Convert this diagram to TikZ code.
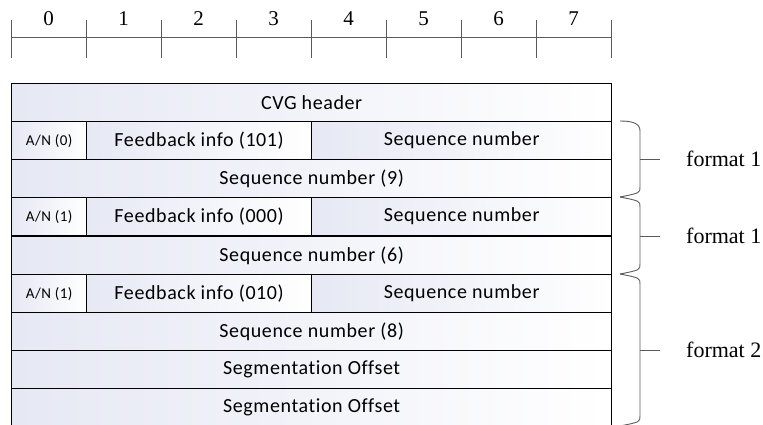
\documentclass[tikz,border=0pt]{standalone}
\usepackage{fontspec}
\setmainfont{Liberation Serif}
\newfontfamily\calibfont[Ligatures={NoCommon}, LetterSpace=3]{Carlito}
\usetikzlibrary{positioning,calc}

\definecolor{cellblue}{RGB}{230,232,244}
\definecolor{rulegray}{RGB}{90,90,90}

\tikzset{
  cell/.style={draw=black, line width=1.3pt, left color=cellblue, right color=white,
    anchor=north west, minimum height=38pt, inner sep=0pt,
    font=\calibfont\fontsize{20}{20}\selectfont},
  smallcell/.style={cell, font=\calibfont\fontsize{15}{15}\selectfont},
  brace/.style={draw=rulegray, line width=0.9pt},
  fmt/.style={anchor=west, inner sep=0pt, font=\fontsize{22}{22}\selectfont}
}

\begin{document}
\begin{tikzpicture}[x=1pt,y=-1pt]
  \useasboundingbox (0,0) rectangle (763,425);

  % bit ruler
  \draw[rulegray, line width=0.9pt] (11,37) -- (611,37);
  \foreach \i in {0,...,8}
    \draw[rulegray, line width=0.9pt] (11+75*\i,20) -- ++(0,38);
  \foreach \i in {0,...,7}
    \node[font=\fontsize{21}{21}\selectfont, inner sep=0pt] (bit\i) at (48.5+75*\i,19) {\i};

  % header frame
  \node[cell, minimum width=600pt] (cvg) at (11,83) {CVG header};

  \node[smallcell, minimum width=75pt] (an1) at (11,121) {A/N (0)};
  \node[cell, minimum width=225pt] (fb1) at (86,121) {Feedback info (101)};
  \node[cell, minimum width=300pt] (sn1) at (311,121) {Sequence number};
  \node[cell, minimum width=600pt] (seq1) at (11,159) {Sequence number (9)};

  \node[smallcell, minimum width=75pt] (an2) at (11,197) {A/N (1)};
  \node[cell, minimum width=225pt] (fb2) at (86,197) {Feedback info (000)};
  \node[cell, minimum width=300pt] (sn2) at (311,197) {Sequence number};
  \node[cell, minimum width=600pt] (seq2) at (11,236) {Sequence number (6)};

  \node[smallcell, minimum width=75pt] (an3) at (11,274) {A/N (1)};
  \node[cell, minimum width=225pt] (fb3) at (86,274) {Feedback info (010)};
  \node[cell, minimum width=300pt] (sn3) at (311,274) {Sequence number};
  \node[cell, minimum width=600pt] (seq3) at (11,312) {Sequence number (8)};
  \node[cell, minimum width=600pt] (seg1) at (11,350) {Segmentation Offset};
  \node[cell, minimum width=600pt] (seg2) at (11,388) {Segmentation Offset};

  % braces
  \coordinate (b1) at (620,121);
  \coordinate (b2) at (620,197);
  \coordinate (b3) at (620,274);
  \coordinate (b4) at (620,426);
  \draw[brace] (b1) .. controls ($(b1)+(14,0)$) and ($(b1)+(20,3)$) .. ($(b1)+(20,10)$)
    -- ($(b2)+(20,-10)$) .. controls ($(b2)+(20,-4)$) .. (b2);
  \draw[brace] (b2) .. controls ($(b2)+(20,4)$) .. ($(b2)+(20,10)$)
    -- ($(b3)+(20,-10)$) .. controls ($(b3)+(20,-4)$) .. (b3);
  \draw[brace] (b3) .. controls ($(b3)+(20,4)$) .. ($(b3)+(20,10)$)
    -- ($(b4)+(20,-10)$) .. controls ($(b4)+(20,-4)$) .. (b4);

  \node[fmt] (f1) at (686,159) {format 1};
  \node[fmt] (f2) at (686,236) {format 1};
  \node[fmt] (f3) at (686,350) {format 2};
  \draw[brace] (640,159) -- (660,159);
  \draw[brace] (640,236) -- (660,236);
  \draw[brace] (640,350) -- (660,350);
\end{tikzpicture}
\end{document}
